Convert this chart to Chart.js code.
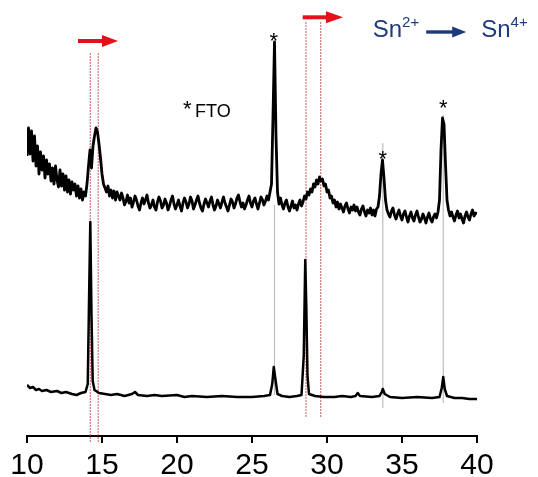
<!DOCTYPE html>
<html>
<head>
<meta charset="utf-8">
<script src="https://cdn.jsdelivr.net/npm/chart.js@4"></script>
<style>
  html, body { margin: 0; padding: 0; background: #fff; }
  canvas { display: block; }
</style>
</head>
<body>
<canvas id="xrd" width="538" height="477"></canvas>
<script>
// XRD patterns: aged film (top, noisy) and fresh film (bottom), 2-theta 10..40

// top trace, sampled every 0.1 degree from 10.0
const topStart = 10.0;
const topStep = 0.1;
const topCounts = [
  280, 308, 282, 305, 275, 300, 270, 290, 262, 284,
  266, 280, 258, 276, 262, 272, 255, 268, 252, 270,
  256, 249, 266, 250, 262, 246, 260, 244, 256, 242,
  254, 246, 252, 240, 250, 238, 247, 236, 244, 240,
  252, 270, 286, 268, 290, 300, 308, 304, 292, 278,
  262, 252, 248, 244, 250, 240, 246, 238, 245, 236,
  244, 240, 236, 243, 238, 231, 235, 241, 233, 238,
  229, 234, 240, 236, 230, 226, 233, 238, 232, 236,
  241, 233, 228, 231, 236, 229, 226, 234, 239, 235,
  228, 231, 237, 233, 226, 230, 236, 240, 232, 227,
  231, 236, 230, 225, 233, 238, 234, 228, 232, 239,
  235, 227, 231, 236, 240, 233, 228, 225, 232, 237,
  233, 229, 235, 239, 231, 226, 230, 236, 232, 228,
  234, 239, 233, 229, 225, 231, 237, 234, 228, 232,
  238, 241, 234, 229, 233, 227, 231, 236, 240, 233,
  229, 235, 238, 232, 227, 233, 239, 236, 231, 235,
  240, 236, 244, 252, 320, 394, 300, 244, 232, 238,
  231, 227, 233, 236, 229, 225, 230, 235, 228, 231,
  226, 232, 236, 230, 234, 240, 237, 244, 241, 247,
  244, 252, 249, 256, 252, 259, 255, 257, 250, 252,
  244, 246, 238, 240, 233, 236, 229, 234, 227, 232,
  228, 224, 230, 233, 227, 223, 229, 226, 231, 225,
  229, 224, 221, 227, 230, 224, 220, 226, 223, 228,
  221, 226, 220, 227, 229, 240, 262, 276, 258, 236,
  226, 222, 219, 225, 228, 221, 217, 222, 226, 220,
  216, 222, 225, 219, 214, 220, 224, 218, 215, 221,
  225, 219, 214, 217, 222, 218, 213, 219, 223, 217,
  214, 219, 222, 218, 224, 236, 286, 318, 312, 272,
  236, 226, 220, 224, 219, 215, 221, 225, 218, 222,
  217, 213, 220, 224, 219, 216, 222, 226, 220, 223,
  222
];

// bottom trace, irregular sampling so the sharp peaks keep their shape
const bottomAngles = [
  10.0, 10.2, 10.4, 10.6, 10.8, 11.0, 11.3, 11.6, 12.0, 12.3, 12.6, 13.0, 13.3, 13.6, 13.9,
  14.05, 14.15, 14.22, 14.3, 14.38, 14.5, 14.8, 15.2, 15.6, 16.0, 16.5, 17.0, 17.2, 17.4,
  18.0, 18.5, 19.0, 20.0, 20.5, 21.0, 22.0, 23.0, 24.0, 25.0, 25.8, 26.2,
  26.35, 26.45, 26.55, 26.7, 27.0, 27.5, 28.0, 28.3,
  28.45, 28.55, 28.62, 28.7, 28.8, 29.2, 29.8, 30.5, 31.0, 31.6, 31.9, 32.05, 32.2,
  33.0, 33.5, 33.65, 33.72, 33.85, 34.2, 35.0, 36.0, 37.0, 37.5,
  37.65, 37.75, 37.85, 38.0, 38.5, 39.0, 39.5, 40.0
];
const bottomCounts = [
  51, 48, 49, 46, 47, 45, 46, 44, 45, 43, 44, 42, 41, 43, 44,
  52, 150, 214, 120, 55, 46, 43, 42, 41, 42, 40, 42, 44, 41,
  40, 41, 40, 41, 39, 40, 39, 40, 39, 39, 40, 41,
  52, 69, 58, 42, 40, 39, 40, 41,
  80, 176, 130, 60, 42, 40, 39, 39, 40, 39, 40, 43, 40,
  39, 40, 44, 47, 42, 39, 38, 39, 38, 39,
  48, 59, 47, 40, 38, 38, 37, 37
];

// guide lines: [angle, lower count, upper count]
const shiftGuides = [[14.22, -6, 384], [14.75, -6, 384], [28.6, 19, 414], [29.58, 19, 414]];
const ftoGuides = [[26.5, 41, 231], [33.72, 28, 293], [37.75, 33, 321]];

// FTO asterisks: [angle, count]
const ftoMarks = [[26.45, 401], [33.72, 283], [37.75, 334]];

// red shift arrows: [from, head start, to, count]
const shiftArrows = [[13.4, 15.0, 16.07, 395], [28.38, 29.93, 31.07, 418.7]];

const trace = (angles, counts) => counts.map((c, i) => ({ x: angles[i], y: c }));

const guideSet = (g, color, dash, width) => ({
  data: [{ x: g[0], y: g[1] }, { x: g[0], y: g[2] }],
  borderColor: color,
  borderWidth: width,
  borderDash: dash,
  pointRadius: 0,
  clip: false
});

const FONT = '"Liberation Sans", Arial, sans-serif';

const annotations = {
  id: 'annotations',
  afterDatasetsDraw(chart) {
    const { ctx, scales: { x, y } } = chart;
    ctx.save();

    // red arrows
    ctx.fillStyle = '#e4101a';
    shiftArrows.forEach(a => {
      const x0 = x.getPixelForValue(a[0]);
      const xh = x.getPixelForValue(a[1]);
      const x1 = x.getPixelForValue(a[2]);
      const yy = y.getPixelForValue(a[3]);
      ctx.fillRect(x0, yy - 2, xh - x0 + 1, 4);
      ctx.beginPath();
      ctx.moveTo(xh, yy - 6);
      ctx.lineTo(x1, yy);
      ctx.lineTo(xh, yy + 6);
      ctx.closePath();
      ctx.fill();
    });

    // asterisks over FTO peaks
    ctx.fillStyle = '#000';
    ctx.textAlign = 'center';
    ctx.textBaseline = 'alphabetic';
    ctx.font = '22px ' + FONT;
    ftoMarks.forEach(m => {
      ctx.fillText('*', x.getPixelForValue(m[0]), y.getPixelForValue(m[1]) + 13);
    });

    // "* FTO" key
    ctx.textAlign = 'left';
    ctx.fillText('*', x.getPixelForValue(20.4), y.getPixelForValue(333) + 13);
    ctx.font = '18px ' + FONT;
    ctx.fillText('FTO', x.getPixelForValue(21.2), y.getPixelForValue(319));

    // Sn2+ -> Sn4+
    ctx.fillStyle = '#1d3b7a';
    let px = x.getPixelForValue(33.05);
    const base = y.getPixelForValue(399);
    const big = '24px ' + FONT;
    const small = '15px ' + FONT;
    ctx.font = big;
    ctx.fillText('Sn', px, base);
    px += ctx.measureText('Sn').width;
    ctx.font = small;
    ctx.fillText('2+', px, base - 10);
    px += ctx.measureText('2+').width + 7;
    const ay = base - 5;
    ctx.fillRect(px, ay - 1.7, 28, 3.4);
    ctx.beginPath();
    ctx.moveTo(px + 26, ay - 5.5);
    ctx.lineTo(px + 40, ay);
    ctx.lineTo(px + 26, ay + 5.5);
    ctx.closePath();
    ctx.fill();
    px += 55;
    ctx.font = big;
    ctx.fillText('Sn', px, base);
    px += ctx.measureText('Sn').width;
    ctx.font = small;
    ctx.fillText('4+', px, base - 10);

    ctx.restore();
  }
};

new Chart(document.getElementById('xrd'), {
  type: 'line',
  data: {
    datasets: [
      {
        data: trace(topCounts.map((c, i) => topStart + i * topStep), topCounts),
        borderColor: '#000', borderWidth: 2.8, borderJoinStyle: 'round',
        pointRadius: 0, tension: 0
      },
      {
        data: trace(bottomAngles, bottomCounts),
        borderColor: '#000', borderWidth: 2.5, borderJoinStyle: 'round',
        pointRadius: 0, tension: 0
      },
      ...ftoGuides.map(g => guideSet(g, '#bdbdbd', [], 1.2)),
      ...shiftGuides.map(g => guideSet(g, 'rgba(205,60,60,0.7)', [2, 1], 1.2))
    ]
  },
  options: {
    responsive: false,
    animation: false,
    devicePixelRatio: 1,
    layout: { padding: { left: 27, right: 61, top: 0, bottom: 0 } },
    plugins: { legend: { display: false }, tooltip: { enabled: false } },
    scales: {
      x: {
        type: 'linear', min: 10, max: 40,
        ticks: {
          stepSize: 5, padding: 5, maxRotation: 0, color: '#000',
          font: { size: 30, family: FONT }
        },
        grid: { drawOnChartArea: false, drawTicks: true, tickLength: 7, color: '#000', lineWidth: 2 },
        border: { display: true, color: '#000', width: 2 },
        afterFit(scale) { scale.height = 41; }
      },
      y: { display: false, min: 0, max: 436 }
    }
  },
  plugins: [annotations]
});
</script>
</body>
</html>
